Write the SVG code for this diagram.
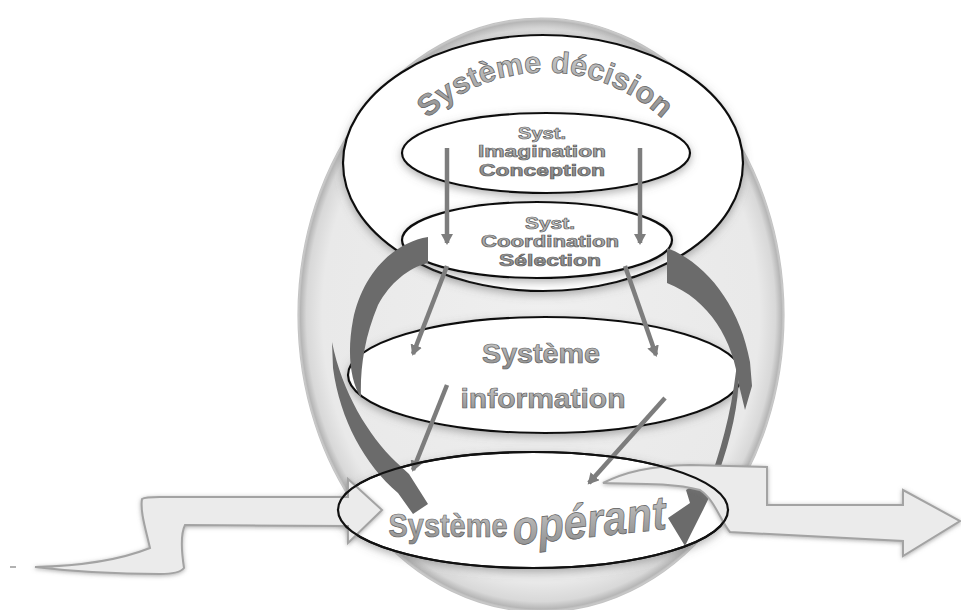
<svg xmlns="http://www.w3.org/2000/svg" width="961" height="610" viewBox="0 0 961 610">
<defs>
  <radialGradient id="bgGrad" cx="0.5" cy="0.5" r="0.5">
    <stop offset="0" stop-color="#efefef"/>
    <stop offset="0.9" stop-color="#e9e9e9"/>
    <stop offset="0.965" stop-color="#d8d8d8"/>
    <stop offset="0.99" stop-color="#b6b6b6"/>
    <stop offset="1" stop-color="#d2d2d2"/>
  </radialGradient>
  <linearGradient id="txtGrad" x1="0" y1="0" x2="0" y2="1">
    <stop offset="0" stop-color="#cdcdcd"/>
    <stop offset="1" stop-color="#8a8a8a"/>
  </linearGradient>
  <filter id="shadow" x="-10%" y="-20%" width="120%" height="150%">
    <feDropShadow dx="0" dy="3" stdDeviation="4" flood-color="#666" flood-opacity="0.5"/>
  </filter>
  <filter id="soft" x="-10%" y="-20%" width="120%" height="140%">
    <feDropShadow dx="0" dy="1" stdDeviation="2" flood-color="#777" flood-opacity="0.6"/>
  </filter>
  <marker id="head" markerUnits="userSpaceOnUse" markerWidth="12" markerHeight="12" refX="9" refY="6" orient="auto">
    <path d="M0,0 L11,6 L0,12 z" fill="#7d7d7d"/>
  </marker>
  <path id="arcDecision" d="M 400,152 A 172 172 0 0 1 690,152"/>
</defs>
<style>
  .ell { fill: #ffffff; stroke: #111; stroke-width: 2.2; filter: url(#shadow); }
  .lbl { font-family: "Liberation Sans", Arial, sans-serif; font-weight: bold; fill: url(#txtGrad); stroke: #606060; stroke-width: 0.7; text-anchor: middle; }
  .thin { fill: none; stroke: #7d7d7d; stroke-width: 4.5; marker-end: url(#head); }
  .dark { fill: #6b6b6b; }
  .flow { fill: #ebebeb; stroke: #a3a3a3; stroke-width: 2; filter: url(#soft); }
</style>

<!-- big background ellipse -->
<ellipse cx="541" cy="315" rx="243" ry="297" fill="url(#bgGrad)" stroke="#c4c4c4" stroke-width="1.2"/>

<g id="decision">
  <ellipse class="ell" cx="543" cy="163" rx="200" ry="128"/>
  <text class="lbl" font-size="30" textLength="258" lengthAdjust="spacingAndGlyphs" stroke-width="1"><textPath href="#arcDecision" startOffset="50%">Système  décision</textPath></text>
</g>

<g id="imagination">
  <ellipse class="ell" cx="546" cy="153" rx="144" ry="40"/>
  <text class="lbl" font-size="16"><tspan x="542" y="138.5" textLength="48" lengthAdjust="spacingAndGlyphs">Syst.</tspan><tspan x="542" y="157" textLength="128" lengthAdjust="spacingAndGlyphs">Imagination</tspan><tspan x="542" y="175.5" textLength="126" lengthAdjust="spacingAndGlyphs">Conception</tspan></text>
</g>

<g id="coordination">
  <ellipse class="ell" cx="537" cy="240" rx="135" ry="38"/>
  <text class="lbl" font-size="16"><tspan x="550" y="228.5" textLength="50" lengthAdjust="spacingAndGlyphs">Syst.</tspan><tspan x="550" y="247" textLength="138" lengthAdjust="spacingAndGlyphs">Coordination</tspan><tspan x="550" y="265.5" textLength="102" lengthAdjust="spacingAndGlyphs">Sélection</tspan></text>
</g>

<g id="information">
  <ellipse class="ell" cx="545" cy="375" rx="197" ry="58"/>
  <text class="lbl" x="541" y="363" font-size="28" textLength="118" lengthAdjust="spacingAndGlyphs" stroke-width="0.9">Système</text>
  <text class="lbl" x="543" y="408" font-size="28" textLength="165" lengthAdjust="spacingAndGlyphs" stroke-width="0.9">information</text>
</g>

<g id="operant">
  <ellipse class="ell" cx="533" cy="510" rx="195" ry="58"/>
  <text class="lbl" x="448" y="537" font-size="34" font-weight="normal" textLength="119" lengthAdjust="spacingAndGlyphs" stroke-width="1">Système</text>
  <text class="lbl" x="590" y="537" font-size="48" font-weight="normal" font-style="italic" textLength="154" lengthAdjust="spacingAndGlyphs" stroke-width="1" transform="rotate(-6 590 530)">opérant</text>
</g>

<g id="connectors">
  <!-- straight grey arrows -->
  <line class="thin" x1="447" y1="148" x2="447" y2="243"/>
  <line class="thin" x1="640" y1="148" x2="640" y2="243"/>
  <line class="thin" x1="447" y1="266" x2="413" y2="354"/>
  <line class="thin" x1="625" y1="266" x2="656" y2="355"/>
  <line class="thin" x1="447" y1="385" x2="413" y2="470"/>
  <line class="thin" x1="665" y1="398" x2="589" y2="483"/>
  <!-- curved dark arrows -->
  <path class="dark" d="M 428,237 C 392,243 362,275 353,320 C 347,352 350,380 361,398 C 360,370 364,338 378,305 C 390,283 408,268 428,263 Z"/>
  <path class="dark" d="M 332,342 C 342,392 368,435 396,462 L 409,474 L 428,504 L 413,514 L 398,493 C 365,465 340,420 333,368 Z"/>
  <path class="dark" d="M 667,248 C 705,262 740,305 750,362 L 752,386 L 745,410 L 739,385 C 733,340 710,300 667,283 Z"/>
  <path class="dark" d="M 738,352 C 734,400 724,440 712,474 L 686,490 L 690,503 L 668,518 L 685,546 C 700,515 712,495 719,472 C 733,432 742,392 738,352 Z"/>
  <!-- input flow arrow -->
  <line x1="10" y1="567" x2="16" y2="567" stroke="#999" stroke-width="1.5"/>
  <path class="flow" d="M 35,567 C 80,566 120,560 150,548 C 146,530 140,512 142,499 C 145,497 150,497 160,497 L 348,497 L 348,479 L 382,510 L 348,543 L 348,526 L 185,525 C 180,535 182,555 184,568 C 180,573 170,574 160,574 C 110,574 60,570 35,567 Z"/>
  <!-- output flow arrow -->
  <path class="flow" d="M 603,483 C 625,472 650,466 690,465 L 767,467 L 767,505 L 903,505 L 903,490 L 960,521 L 903,556 L 903,541 L 730,532 C 720,520 715,500 700,490 C 670,482 630,484 603,483 Z"/>
</g>

<g id="operant-outline">
  <ellipse cx="533" cy="510" rx="195" ry="58" fill="none" stroke="#111" stroke-width="2.2"/>
</g>
</svg>
